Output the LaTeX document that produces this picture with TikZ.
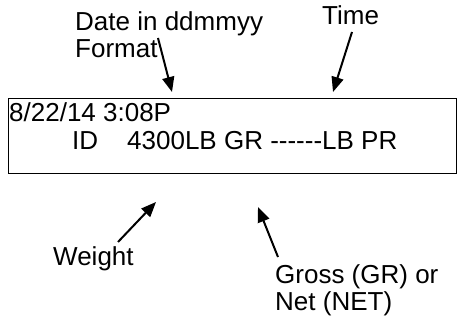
\documentclass[tikz,border=0pt]{standalone}
\usepackage{fontspec}
\setmainfont{Liberation Sans}
\usetikzlibrary{arrows.meta}
\begin{document}
\begin{tikzpicture}[x=1pt,y=-1pt,
  lbl/.style={inner sep=0pt, anchor=base west, align=left, font=\fontsize{26}{27}\selectfont},
  pointer/.style={line width=2pt, -{Triangle[length=15pt,width=12pt]}},
  screen/.style={draw, line width=1.4pt, inner sep=0pt, anchor=north west, minimum width=448pt, minimum height=75pt}]
\useasboundingbox (0,0) rectangle (465,320);
\node[screen] (display) at (8,98) {};
\node[lbl] (line1) at (9,122) {8/22/14 3:08P};
\node[lbl] (line2) at (72,150) {ID\hspace{29pt}4300LB GR -{}-{}-{}-{}-{}-LB PR};
\node[lbl] (date) at (75,57.5) {Date in ddmmyy\\Format};
\node[lbl] (time) at (322,25) {Time};
\node[lbl] (weight) at (53,265) {Weight};
\node[lbl] (gross) at (275,310) {Gross (GR) or\\Net (NET)};
\coordinate (dateS) at (158,38);
\coordinate (dateT) at (172,92);
\coordinate (timeS) at (352,32);
\coordinate (timeT) at (333,92);
\coordinate (weightS) at (118,242);
\coordinate (weightT) at (156,202);
\coordinate (grossS) at (278,257);
\coordinate (grossT) at (258,207);
\draw[pointer] (dateS) -- (dateT);
\draw[pointer] (timeS) -- (timeT);
\draw[pointer] (weightS) -- (weightT);
\draw[pointer] (grossS) -- (grossT);
\end{tikzpicture}
\end{document}
